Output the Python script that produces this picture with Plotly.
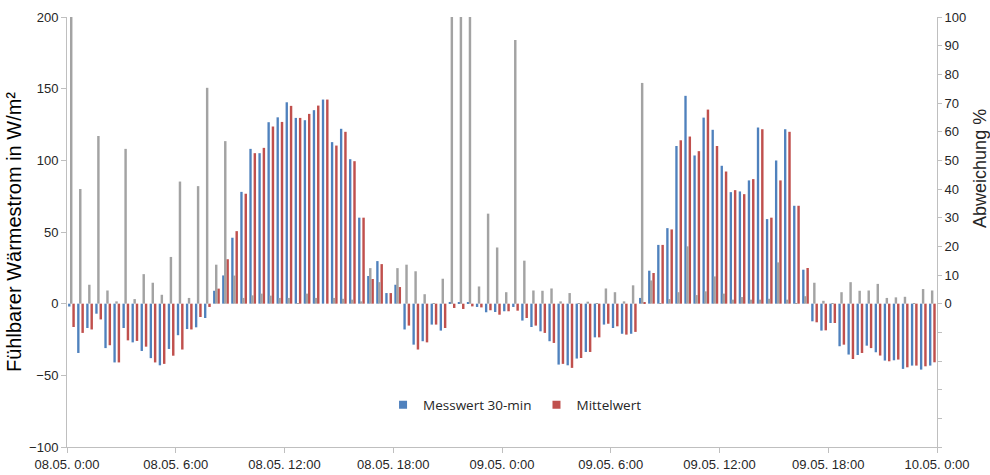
import plotly.graph_objects as go

# Half-hourly slots from 08.05. 0:00 to 10.05. 0:00 (hours since start)
slot_hours = [i * 0.5 for i in range(96)]

# Fühlbarer Wärmestrom, 30-min measurement (W/m²)
messwert = [
    -2, -34.4, -17, -7, -31, -41, -17, -27, -33, -38, -43, -31.6,
    -22, -17.7, -16.5, -10, 9, 19.7, 46, 78, 108, 105, 126.6, 130,
    140.5, 129.6, 128, 135, 142.4, 112.7, 122, 100.8, 60, 19.3, 29.7, 7.4,
    13.2, -18, -28.6, -26.2, -14.6, -18.8, 1.2, 1, 1, -2.3, -6, -5.8,
    -5.3, -2.3, -11.8, -16.3, -19.3, -26.2, -42.5, -43, -38.3, -33.7, -23.5, -14.6,
    -17, -21, -21, 4, 23, 41, 52.7, 110, 145, 103.4, 129.8, 121.3,
    96.2, 77.8, 78.3, 86, 122.9, 59, 99.9, 121.7, 68.3, 23.7, -12.3, -18.8,
    -13.5, -29.7, -35.5, -35.8, -29.3, -33.9, -39.7, -39.5, -45.5, -43.2, -46, -43.2,
]

# Fühlbarer Wärmestrom, mean value (W/m²)
mittelwert = [
    -16.3, -20.4, -18, -11, -29, -41, -25.6, -26, -30, -41, -42, -36.3,
    -32, -18, -9.3, -2.3, 10.5, 31, 50.6, 76.7, 105, 108.7, 123.6, 126.8,
    138, 129.6, 132.4, 138.2, 142.4, 110.3, 119.9, 99.4, 60, 17.2, 27.6, 7.4,
    11.6, -15.3, -32, -27, -14.6, -17, -3, -3.7, -1.9, -2.6, -4.6, -7.7,
    -5.3, -4.9, -10, -15.3, -20.4, -27.4, -42, -44.8, -37.9, -33.7, -23.5, -14,
    -15.8, -21.6, -19.7, 0.5, 21.4, 41, 51.8, 114, 116.6, 106.4, 135.4, 110,
    92.2, 79.2, 76.4, 86.9, 121.7, 60, 86, 119.9, 68.3, 24.9, -13, -18.6,
    -13.5, -28.6, -38.6, -34.4, -31, -36.2, -40.2, -39, -44.4, -43.2, -43.7, -40.9,
]

# Deviation between both values (%)
abweichung = [
    100, 40, 6.6, 58.5, 4.6, 0.8, 54, 1.6, 10.3, 7.3, 3.1, 16.3,
    42.6, 2, 41, 75.3, 13.6, 56.7, 9.8, 2, 2.9, 3.5, 2.8, 2,
    2, 0.2, 3.5, 2, 0, 2, 1.7, 1.4, 0.8, 12.4, 7.5, 0,
    12.4, 13.6, 11.3, 3.3, 0.2, 8.7, 100, 100, 100, 6, 31.4, 19.6,
    4, 92, 15, 4.6, 4.5, 5.3, 0.8, 3.7, 0.2, 0.7, 0.2, 5.3,
    4, 0.8, 6.4, 77, 8.1, 0.2, 1.6, 4, 20, 3, 4.3, 9.5,
    3.5, 1.4, 2.3, 1.4, 1.4, 1.7, 14.4, 1.4, 0.2, 2.6, 7.3, 1,
    0.2, 4, 7.5, 4.5, 4.6, 6.9, 2, 2.2, 2.4, 0.2, 5.1, 4.6,
]

tick_hours = [0, 6, 12, 18, 24, 30, 36, 42, 48]
tick_labels = [
    "08.05. 0:00", "08.05. 6:00", "08.05. 12:00", "08.05. 18:00",
    "09.05. 0:00", "09.05. 6:00", "09.05. 12:00", "09.05. 18:00",
    "10.05. 0:00",
]
pct_ticks = list(range(-50, 101, 10))
pct_labels = [str(v) if v >= 0 else "" for v in pct_ticks]

BLUE = "#4F81BD"
RED = "#C0504D"
GRAY = "#A3A3A3"
AXIS = "#BFBFBF"
TEXT = "#262626"
FONT = "Liberation Sans, Arial, sans-serif"

fig = go.Figure()

fig.add_trace(go.Bar(
    x=slot_hours, y=messwert, name="Messwert 30-min",
    marker=dict(color=BLUE, line=dict(width=0)),
    width=0.13, offset=0.06, showlegend=False,
))
fig.add_trace(go.Bar(
    x=slot_hours, y=mittelwert, name="Mittelwert",
    marker=dict(color=RED, line=dict(width=0)),
    width=0.135, offset=0.295, showlegend=False,
))
fig.add_trace(go.Bar(
    x=slot_hours, y=abweichung, name="Abweichung", yaxis="y2",
    marker=dict(color=GRAY, line=dict(width=0)),
    width=0.135, offset=0.165, showlegend=False,
))

# legend entries with small square swatches
for name, color in [("Messwert 30-min", BLUE), ("Mittelwert", RED)]:
    fig.add_trace(go.Scatter(
        x=[None], y=[None], mode="markers", name=name,
        marker=dict(symbol="square", size=8, color=color),
    ))

fig.update_layout(
    width=990, height=475,
    margin=dict(l=67, r=53, t=17, b=28),
    paper_bgcolor="white", plot_bgcolor="white",
    barmode="overlay",
    font=dict(family=FONT, size=13, color=TEXT),
    showlegend=True,
    legend=dict(
        orientation="h", x=0.515, xanchor="center", y=0.098, yanchor="middle",
        bgcolor="rgba(0,0,0,0)", font=dict(family="Open Sans, sans-serif", size=13.5, color=TEXT),
        itemwidth=30, tracegroupgap=0,
    ),
    xaxis=dict(
        range=[0, 48], tickmode="array", tickvals=tick_hours, ticktext=tick_labels,
        showline=True, linecolor=AXIS, linewidth=1, ticks="outside", ticklen=5,
        tickcolor=AXIS, showgrid=False, zeroline=False, automargin=False,
        tickfont=dict(family=FONT, size=13, color=TEXT),
    ),
    yaxis=dict(
        range=[-100, 200], tick0=-100, dtick=50,
        showline=True, linecolor=AXIS, linewidth=1, ticks="outside", ticklen=5,
        tickcolor=AXIS, showgrid=False, zeroline=False, automargin=False,
        tickfont=dict(family=FONT, size=13, color=TEXT),
        title=dict(text="Fühlbarer Wärmestrom in W/m²", font=dict(family=FONT, size=20, color="#000000"), standoff=2),
    ),
    yaxis2=dict(
        overlaying="y", side="right", range=[-50, 100],
        tickmode="array", tickvals=pct_ticks, ticktext=pct_labels,
        showline=True, linecolor=AXIS, linewidth=1, ticks="outside", ticklen=4,
        tickcolor=AXIS, showgrid=False, zeroline=False, automargin=False,
        tickfont=dict(family=FONT, size=13, color=TEXT),
    ),
)

# right-hand title, centred on the labelled 0–100 % part of the axis
fig.add_annotation(
    text="Abweichung %", textangle=-90,
    xref="paper", x=1, xanchor="center", xshift=43,
    yref="y2", y=47, yanchor="middle",
    showarrow=False, font=dict(family=FONT, size=18, color=TEXT),
)

fig.write_html("out.html")
